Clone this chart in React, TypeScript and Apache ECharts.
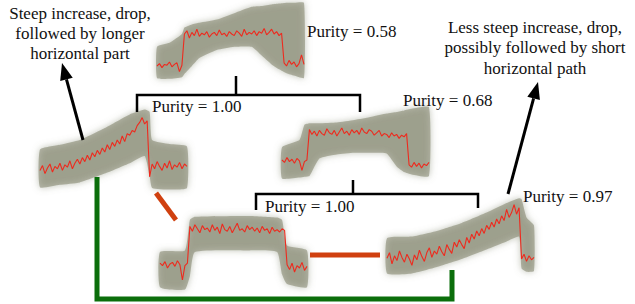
import React, { useEffect, useRef } from 'react';
import * as echarts from 'echarts';

// Red (representative) series of each small panel, one value per time step (0..59)
const redA = [20, 23, 18, 22, 21, 25, 19, 22, 24, 13, 21, 60, 64, 55, 62, 58, 66, 57, 61, 59, 63, 56, 60, 62, 58, 65, 59, 61, 57, 63, 60, 58, 64, 61, 57, 66, 59, 62, 60, 64, 58, 63, 61, 67, 59, 62, 66, 60, 63, 58, 61, 24, 20, 27, 22, 25, 19, 23, 34, 22];
const redB = [22, 28, 18, 25, 30, 20, 27, 24, 31, 22, 29, 26, 34, 24, 31, 36, 30, 38, 33, 41, 35, 44, 39, 47, 42, 50, 45, 54, 48, 57, 52, 60, 55, 65, 58, 68, 66, 72, 70, 78, 82, 88, 80, 84, 14, 30, 24, 33, 27, 22, 31, 25, 34, 23, 29, 26, 32, 24, 30, 27];
const redC = [30, 27, 33, 28, 31, 26, 32, 29, 17, 28, 30, 68, 62, 66, 60, 67, 63, 61, 69, 64, 62, 67, 60, 65, 70, 63, 66, 61, 68, 64, 67, 62, 70, 65, 63, 68, 66, 61, 64, 67, 60, 63, 62, 58, 64, 60, 62, 57, 61, 59, 63, 24, 21, 27, 22, 26, 20, 25, 23, 27];
const redD = [36, 33, 38, 30, 35, 37, 32, 39, 34, 15, 33, 36, 82, 76, 84, 79, 74, 83, 78, 80, 75, 84, 77, 81, 73, 85, 78, 76, 82, 74, 80, 86, 77, 79, 75, 83, 78, 81, 76, 80, 74, 82, 77, 79, 73, 81, 76, 78, 75, 79, 77, 34, 28, 36, 25, 33, 30, 37, 27, 32];
const redE = [21, 28, 14, 24, 18, 30, 22, 16, 26, 20, 12, 25, 19, 31, 23, 17, 28, 34, 22, 30, 26, 36, 29, 24, 38, 32, 27, 41, 35, 44, 38, 33, 47, 40, 51, 45, 55, 49, 58, 52, 62, 57, 66, 60, 70, 64, 74, 68, 82, 72, 78, 88, 76, 84, 20, 26, 17, 24, 19, 22];

// Envelope of the member series of each cluster: [time step, lower, upper]
const bandA = [[0, 5, 44], [5, 4, 49], [10, 6, 60], [11, 10, 68], [14, 20, 72], [17, 30, 74], [24, 40, 78], [31, 44, 86], [38, 44, 94], [42, 33, 95], [46, 22, 97], [49, 16, 98], [52, 11, 99], [55, 8, 99], [59, 5, 99]];
const bandB = [[0, 1, 48], [8, 4, 54], [16, 7, 60], [26, 18, 75], [36, 31, 92], [42, 40, 98], [44, 15, 95], [45, 0, 60], [52, -2, 55], [59, 0, 52]];
const bandC = [[0, 7, 46], [7, 8, 55], [9, 9, 74], [11, 10, 76], [15, 32, 76], [22, 37, 77], [29, 39, 80], [36, 39, 84], [42, 38, 88], [46, 22, 90], [49, 15, 92], [52, 12, 94], [59, 10, 96]];
const bandD = [[0, 6, 50], [10, 3, 52], [12, 20, 90], [14, 50, 94], [36, 52, 95], [47, 50, 93], [49, 22, 90], [51, 10, 58], [59, 6, 52]];
const bandE = [[0, 2, 46], [10, 2, 48], [20, 10, 55], [30, 20, 65], [40, 32, 78], [48, 42, 90], [53, 48, 96], [54, 8, 95], [56, 4, 72], [59, 5, 62]];

const purityLabels = ['Purity = 0.58', 'Purity = 1.00', 'Purity = 0.68', 'Purity = 1.00', 'Purity = 0.97'];
const noteLeft = ['Steep increase, drop,', 'followed by longer', 'horizontal part'];
const noteRight = ['Less steep increase, drop,', 'possibly followed by short', 'horizontal path'];

const panelData = [
  { red: redA, band: bandA },
  { red: redB, band: bandB },
  { red: redC, band: bandC },
  { red: redD, band: bandD },
  { red: redE, band: bandE },
];

// layout (pixels)
const panelBoxes = [
  { left: 157, top: 2 },
  { left: 40, top: 108 },
  { left: 282, top: 104 },
  { left: 160, top: 212 },
  { left: 387, top: 195 },
];
const PW = 147;
const PH = 80;

const labelPos = [
  [307, 31],
  [152, 106],
  [403, 100],
  [265, 206],
  [523, 196],
];

const FONT = '17px "Liberation Serif", "Times New Roman", serif';

function arrow(x1: number, y1: number, x2: number, y2: number, L: number, W: number) {
  const dx = x2 - x1;
  const dy = y2 - y1;
  const len = Math.sqrt(dx * dx + dy * dy);
  const ux = dx / len;
  const uy = dy / len;
  const bx = x2 - ux * L;
  const by = y2 - uy * L;
  const nx = -uy;
  const ny = ux;
  return [
    { type: 'line', z: 20, shape: { x1, y1, x2: bx, y2: by }, style: { stroke: '#000', lineWidth: 3 } },
    {
      type: 'polygon',
      z: 20,
      shape: { points: [[x2, y2], [bx + nx * W / 2, by + ny * W / 2], [bx - nx * W / 2, by - ny * W / 2]] },
      style: { fill: '#000' },
    },
  ];
}

function txt(text: string, x: number, y: number, align: string) {
  return {
    type: 'text',
    z: 20,
    style: {
      text,
      x,
      y,
      font: FONT,
      fill: '#111',
      align,
      textAlign: align,
      verticalAlign: 'middle',
      textVerticalAlign: 'middle',
    },
  };
}

export default function App() {
  const ref = useRef<HTMLDivElement>(null);
  useEffect(() => {
    if (!ref.current) return;
    const chart = echarts.init(ref.current, undefined, { renderer: 'svg' });

    const grid = panelBoxes.map((b) => ({ left: b.left, top: b.top, width: PW, height: PH }));
    const xAxis = panelBoxes.map((_, k) => ({ type: 'value', gridIndex: k, min: 0, max: 59, show: false }));
    const yAxis = panelBoxes.map((_, k) => ({ type: 'value', gridIndex: k, min: 0, max: 100, show: false }));

    const series: any[] = [];
    panelData.forEach((p, k) => {
      const band = p.band;
      series.push({
        type: 'custom',
        xAxisIndex: k,
        yAxisIndex: k,
        z: 1,
        silent: true,
        clip: false,
        data: [[0, 0]],
        renderItem: (_params: any, api: any) => {
          const upper = band.map((d) => api.coord([d[0], d[2]]));
          const lower = band.map((d) => api.coord([d[0], d[1]])).reverse();
          const pts = [...upper, ...lower];
          return {
            type: 'polygon',
            shape: { points: pts, smooth: 0.15 },
            style: {
              fill: 'rgba(128,130,105,0.55)',
              shadowBlur: 7,
              shadowColor: 'rgba(130,135,110,0.9)',
              shadowOffsetX: 0,
              shadowOffsetY: 0,
            },
          };
        },
      });
      series.push({
        type: 'line',
        xAxisIndex: k,
        yAxisIndex: k,
        z: 3,
        silent: true,
        showSymbol: false,
        data: p.red.map((v, i) => [i, v]),
        lineStyle: { color: '#ee2a1e', width: 1.1 },
      });
    });

    const graphic: any[] = [
      // dendrogram brackets
      { type: 'polyline', z: 15, shape: { points: [[236, 76], [236, 95]] }, style: { stroke: '#000', lineWidth: 2.5, fill: null } },
      { type: 'polyline', z: 15, shape: { points: [[137, 112], [137, 95], [360, 95], [360, 112]] }, style: { stroke: '#000', lineWidth: 2.5, fill: null } },
      { type: 'polyline', z: 15, shape: { points: [[353, 180], [353, 194]] }, style: { stroke: '#000', lineWidth: 2.5, fill: null } },
      { type: 'polyline', z: 15, shape: { points: [[256, 210], [256, 194], [478, 194], [478, 208]] }, style: { stroke: '#000', lineWidth: 2.5, fill: null } },
      // similarity connectors
      { type: 'line', z: 15, shape: { x1: 156, y1: 193, x2: 176, y2: 220 }, style: { stroke: '#d0400f', lineWidth: 5 } },
      { type: 'line', z: 15, shape: { x1: 310, y1: 255, x2: 380, y2: 255 }, style: { stroke: '#d0400f', lineWidth: 5 } },
      { type: 'polyline', z: 15, shape: { points: [[97, 177], [97, 299], [452, 299], [452, 270]] }, style: { stroke: '#0b6e0b', lineWidth: 5, fill: null } },
      ...arrow(83, 140, 62, 63, 17, 13),
      ...arrow(508, 194, 538, 82, 17, 13),
      ...purityLabels.map((t, k) => txt(t, labelPos[k][0], labelPos[k][1], 'left')),
      ...noteLeft.map((t, k) => txt(t, 80, 13 + k * 20, 'center')),
      ...noteRight.map((t, k) => txt(t, 535, 27 + k * 20.5, 'center')),
    ];

    chart.setOption({
      animation: false,
      backgroundColor: '#fff',
      grid,
      xAxis,
      yAxis,
      series,
      graphic,
    });
    return () => chart.dispose();
  }, []);
  return <div ref={ref} style={{ position: 'absolute', left: 0, top: 0, width: 635, height: 304 }} />;
}
